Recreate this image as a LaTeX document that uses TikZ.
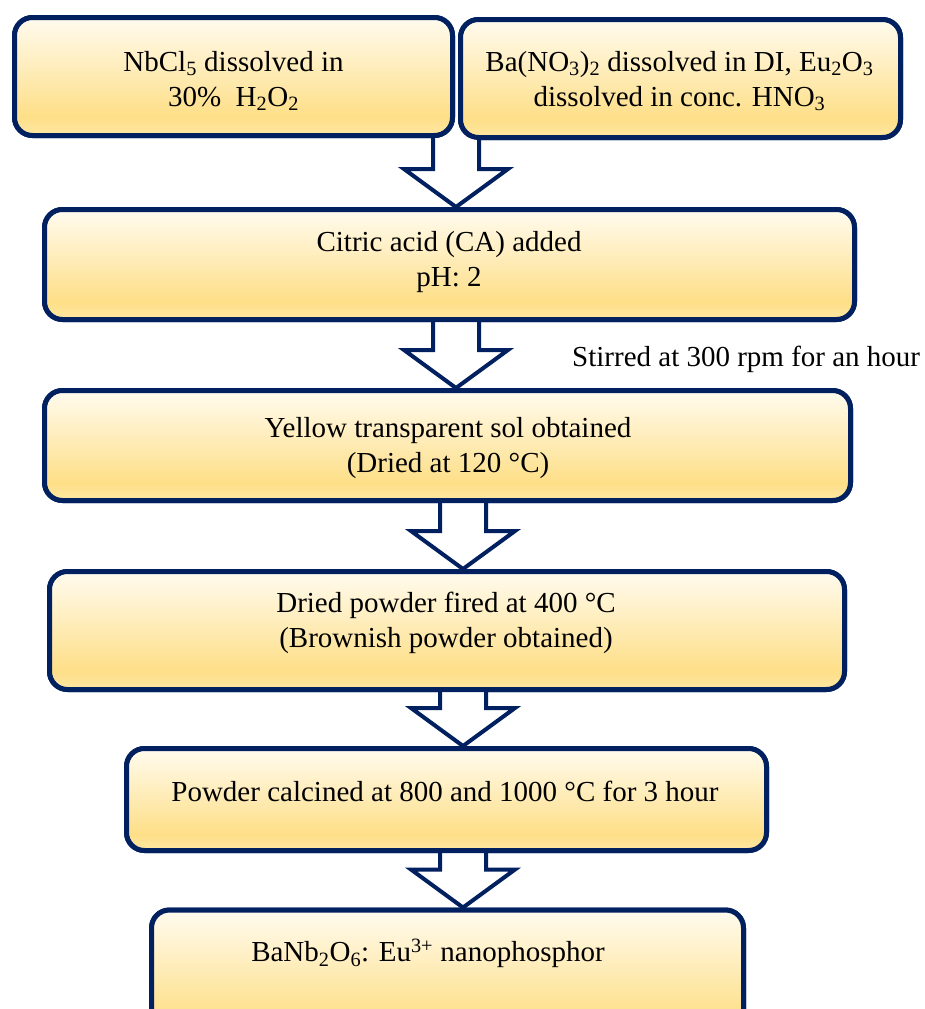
\documentclass[tikz,border=0pt]{standalone}
\usepackage{fontspec}
\setmainfont{Liberation Serif}
\usetikzlibrary{calc}
\definecolor{navy}{HTML}{002060}
\definecolor{ylT}{HTML}{FFFBEF}
\definecolor{ylM}{HTML}{FEDF88}
\definecolor{ylB}{HTML}{FFE7A3}
\pgfdeclareverticalshading{boxshade}{100bp}{color(0bp)=(ylB); color(25bp)=(ylB); color(33bp)=(ylM); color(75bp)=(ylT); color(100bp)=(ylT)}
\tikzset{
  stepbox/.style n args={2}{draw=navy, line width=5pt, rounded corners=18pt, shading=boxshade,
    minimum width=#1pt, minimum height=#2pt, inner sep=0pt},
  steptext/.style={font=\fontsize{29}{35}\selectfont, align=center, inner sep=0pt, text=black},
  blockarr/.style={draw=navy, fill=white, line width=4pt, line join=miter},
}
\newcommand\blockarrow[3]{% from node, to node, x centre
  \draw[blockarr] let \p1=(#1.south), \p2=(#2.north) in
    (#3pt-23pt,\y1) -- (#3pt-23pt,\y2+38pt) -- (#3pt-52pt,\y2+38pt) -- (#3pt,\y2)
    -- (#3pt+52pt,\y2+38pt) -- (#3pt+23pt,\y2+38pt) -- (#3pt+23pt,\y1);
}
\begin{document}
\begin{tikzpicture}[x=1pt,y=-1pt]
\useasboundingbox (0,0) rectangle (924,1009);
\clip (0,0) rectangle (924,1009);
% boxes (shapes only)
\path
  (233.5,76.5) node[stepbox={438}{118}] (b1) {}
  (680.5,78.5) node[stepbox={440}{118}] (b2) {}
  (449.5,264.5) node[stepbox={810}{110}] (b3) {}
  (447.5,445.5) node[stepbox={806}{110}] (b4) {}
  (447,630.5) node[stepbox={795}{118}] (b5) {}
  (446.5,799.5) node[stepbox={640}{102}] (b6) {}
  (447.5,975) node[stepbox={592}{130}] (b7) {};
% arrows
\blockarrow{b1}{b3}{456}
\blockarrow{b3}{b4}{456}
\blockarrow{b4}{b5}{463}
\blockarrow{b5}{b6}{463}
\blockarrow{b6}{b7}{463}
% redraw boxes above arrows
\path
  (233.5,76.5) node[stepbox={438}{118}] {}
  (680.5,78.5) node[stepbox={440}{118}] {}
  (449.5,264.5) node[stepbox={810}{110}] {}
  (447.5,445.5) node[stepbox={806}{110}] {}
  (447,630.5) node[stepbox={795}{118}] {}
  (446.5,799.5) node[stepbox={640}{102}] {}
  (447.5,975) node[stepbox={592}{130}] {};
% texts
\node[steptext] (t1) at (233.5,81) {NbCl\textsubscript{5} dissolved in\\30\%\ \ H\textsubscript{2}O\textsubscript{2}};
\node[steptext] (t2) at (679.5,81) {Ba(NO\textsubscript{3})\textsubscript{2} dissolved in DI, Eu\textsubscript{2}O\textsubscript{3}\\dissolved in conc. HNO\textsubscript{3}};
\node[steptext] (t3) at (449,262) {Citric acid (CA) added\\pH: 2};
\node[steptext] (t4) at (448,448) {Yellow transparent sol obtained\\(Dried at 120 °C)};
\node[steptext] (t5) at (446,623) {Dried powder fired at 400 °C\\(Brownish powder obtained)};
\node[steptext] (t6) at (445,791) {Powder calcined at 800 and 1000 °C for 3 hour};
\node[steptext] (t7) at (428,953) {BaNb\textsubscript{2}O\textsubscript{6}: Eu\textsuperscript{3+} nanophosphor};
\node[steptext, anchor=west] (stir) at (572,359) {Stirred at 300 rpm for an hour};
\end{tikzpicture}
\end{document}
